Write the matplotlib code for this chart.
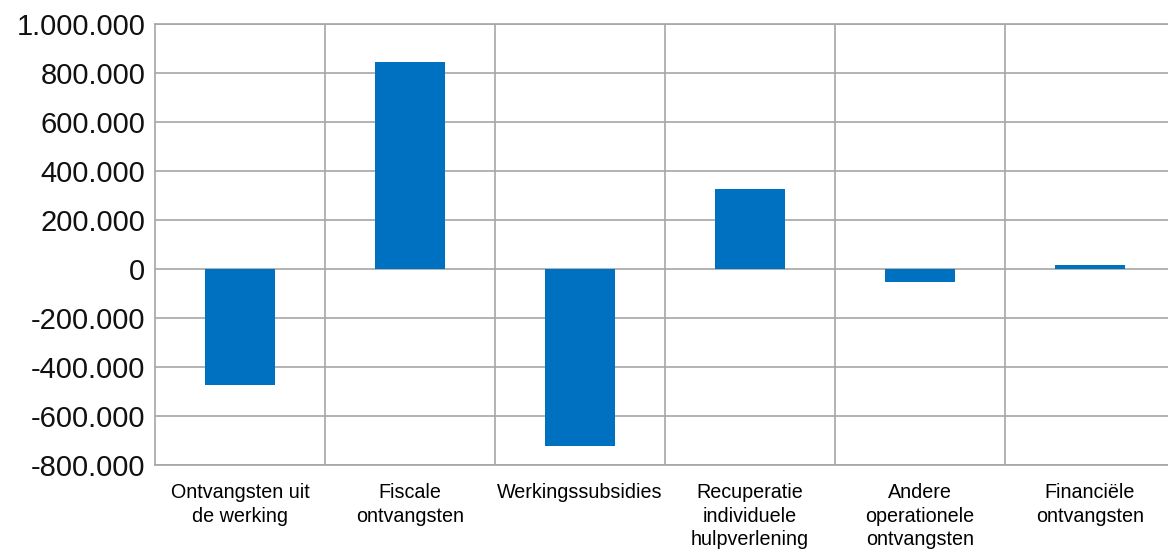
import matplotlib
matplotlib.use('Agg')
import matplotlib.pyplot as plt
from matplotlib.ticker import FuncFormatter, MultipleLocator

categories = ['Ontvangsten uit\nde werking', 'Fiscale\nontvangsten', 'Werkingssubsidies',
              'Recuperatie\nindividuele\nhulpverlening', 'Andere\noperationele\nontvangsten',
              'Financiële\nontvangsten']
values = [-473000, 845000, -722000, 326000, -52000, 16000]

plt.rcParams['font.family'] = ['Liberation Sans', 'DejaVu Sans']

fig = plt.figure(figsize=(11.68, 5.5), dpi=100)
ax = fig.add_axes([155 / 1168, 1 - 465 / 550, 1020 / 1168, 441 / 550])

x = range(len(categories))
ax.bar(x, values, width=0.41, color='#0070C0', zorder=3)

ax.set_xlim(-0.5, len(categories) - 0.5)
ax.set_ylim(-800000, 1000000)
ax.yaxis.set_major_locator(MultipleLocator(200000))
ax.yaxis.set_major_formatter(FuncFormatter(lambda v, p: f'{int(v):,}'.replace(',', '.')))

# category separators instead of x gridlines
ax.set_xticks([i + 0.5 for i in x], minor=True)
ax.set_xticks(list(x))
ax.set_xticklabels(categories, fontsize=14.2, linespacing=1.3)
ax.grid(axis='y', which='major', color='#a6a6a6', linewidth=1.2, zorder=0)
ax.grid(axis='x', which='minor', color='#a6a6a6', linewidth=1.2, zorder=0)
ax.tick_params(axis='both', which='both', length=0)
ax.tick_params(axis='x', pad=13, colors='#000000')
ax.tick_params(axis='y', labelsize=21, pad=7, colors='#111111')

for s in ax.spines.values():
    s.set_color('#a6a6a6')
    s.set_linewidth(1.2)

fig.savefig('out.png', dpi=100)
